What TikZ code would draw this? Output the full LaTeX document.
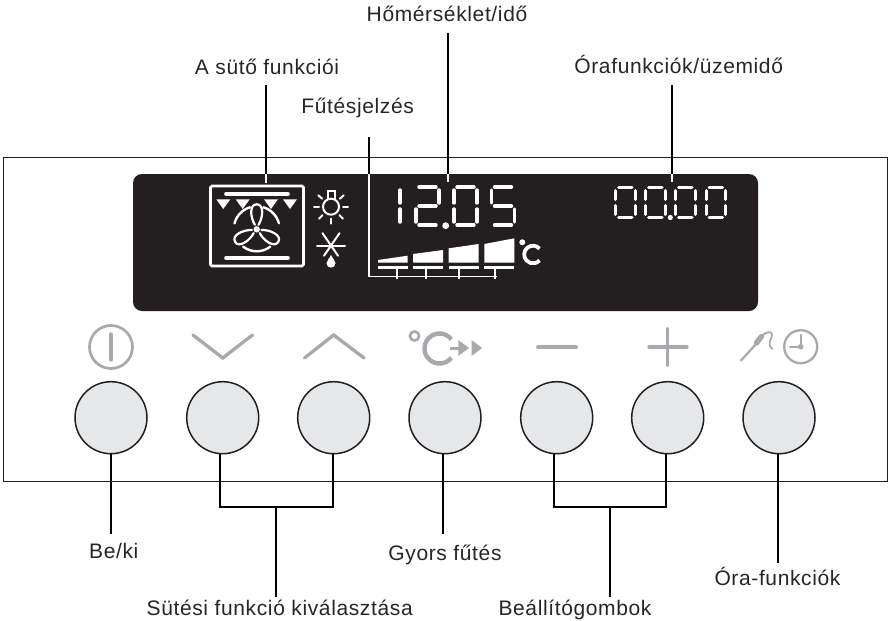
\documentclass[tikz,border=0pt]{standalone}
\usepackage{fontspec}
\setmainfont{Liberation Sans}
\newfontfamily\lblfont[LetterSpace=3]{Liberation Sans}
\definecolor{panelblack}{HTML}{231F20}
\definecolor{icongray}{HTML}{A7A9AC}
\definecolor{btnfill}{HTML}{E6E7E8}
% \segdigit{x}{y}{w}{h}{segments}: seven segment digit
\newcommand{\segdigit}[5]{%
  \foreach \s in {#5}{%
    \ifnum\s=1 \draw[seg] ({#1+3},{#2}) -- ({#1+#3-3},{#2});\fi
    \ifnum\s=2 \draw[seg] ({#1+#3},{#2+3}) -- ({#1+#3},{#2+#4/2-3});\fi
    \ifnum\s=3 \draw[seg] ({#1+#3},{#2+#4/2+3}) -- ({#1+#3},{#2+#4-3});\fi
    \ifnum\s=4 \draw[seg] ({#1+3},{#2+#4}) -- ({#1+#3-3},{#2+#4});\fi
    \ifnum\s=5 \draw[seg] ({#1},{#2+#4/2+3}) -- ({#1},{#2+#4-3});\fi
    \ifnum\s=6 \draw[seg] ({#1},{#2+3}) -- ({#1},{#2+#4/2-3});\fi
    \ifnum\s=7 \draw[seg] ({#1+3},{#2+#4/2}) -- ({#1+#3-3},{#2+#4/2});\fi
  }}
\tikzset{
  x=1pt,y=-1pt,
  lbl/.style={font=\lblfont\fontsize{21}{24}\selectfont,anchor=base,inner sep=0pt,text height=12pt,text depth=4pt,text={black!85}},
  btn/.style={circle,draw=panelblack,line width=1.5pt,fill=btnfill,minimum size=72pt,inner sep=0pt},
  lead/.style={draw=black,line width=2pt},
  leadw/.style={draw=white,line width=1.3pt},
  seg/.style={draw=white,line width=3.4pt,line cap=round},
  icon/.style={draw=icongray,line width=3.3pt,line cap=round,line join=miter},
  wht/.style={draw=white,line cap=round},
}
\begin{document}
\begin{tikzpicture}
\useasboundingbox (0,0) rectangle (889,621);
\fill[white] (0,0) rectangle (889,621);
% panel
\node[draw=panelblack,line width=1pt,minimum width=884pt,minimum height=324pt,inner sep=0pt] (panel) at (445,319) {};
\node[fill=panelblack,rounded corners=9pt,minimum width=625pt,minimum height=137pt,inner sep=0pt] (disp) at (445.5,242.5) {};
% labels
\node[lbl] (lh) at (447,21.7) {Hőmérséklet/idő};
\node[lbl] (la) at (267,74) {A sütő funkciói};
\node[lbl] (lo) at (678.7,73.3) {Órafunkciók/üzemidő};
\node[lbl] (lf) at (357.7,113) {Fűtésjelzés};
\node[lbl] (lb) at (113.8,558.3) {Be/ki};
\node[lbl] (lg) at (445,560) {Gyors fűtés};
\node[lbl] (ls) at (279.7,615) {Sütési funkció kiválasztása};
\node[lbl] (lm) at (575,615) {Beállítógombok};
\node[lbl] (lr) at (777.5,585) {Óra-funkciók};
% buttons
\foreach \n/\x in {1/111,2/222.7,3/333.7,4/445,5/556.7,6/667.7,7/779}{
  \node[btn] (b\n) at (\x,417.7) {};
}
% oven icon
\node[draw=white,line width=2.6pt,rounded corners=1.5pt,minimum width=93pt,minimum height=80pt,inner sep=0pt] (oven) at (257,226) {};
\draw[wht,line width=3.6pt] (226,194) -- (288,194);
\draw[wht,line width=3.6pt] (226,258) -- (288,258);
\foreach \x in {223.3,242.7,271,290}{
  \fill[white] (\x-7,199.3) -- (\x+7,199.3) -- (\x,209) -- cycle;
}
\begin{scope}[shift={(256.7,229.3)}]
  \foreach \a in {0,120,240}{
    \draw[wht,line width=2.2pt,rotate=\a,line join=round] (-1.8,-4.5) .. controls (-6.5,-12) and (-7.5,-25) .. (0,-25) .. controls (7.5,-25) and (6.5,-12) .. (1.8,-4.5);
  }
  \fill[white] (0,0) circle (3.2);
  \draw[wht,line width=2.4pt] (-15:23) arc (-15:-73:23);
  \draw[wht,line width=2.4pt] (-107:23) arc (-107:-165:23);
  \draw[wht,line width=2.4pt] (52:22) arc (52:128:22);
\end{scope}
% lamp
\begin{scope}[shift={(331,206.7)}]
  \draw[wht,line width=2pt] (0,0) circle (8);
  \draw[wht,line width=2pt,line cap=butt] (-3.5,-7) -- (-3.5,-15.5) -- (3.5,-15.5) -- (3.5,-7);
  \foreach \a in {0,180,45,90,135,-42,-138}{
    \draw[wht,line width=2pt] (\a:12) -- (\a:17);
  }
\end{scope}
% frost
\begin{scope}[shift={(331,245.7)}]
  \draw[wht,line width=2pt] (-14,0) -- (14,0);
  \draw[wht,line width=2pt] (-8.5,-12.5) -- (7,10);
  \draw[wht,line width=2pt] (8.5,-12.5) -- (-7,10);
  \fill[white] (0,9) .. controls (1,13) and (4.5,14) .. (4.5,17.5) arc (0:180:4.5) .. controls (-4.5,14) and (-1,13) .. (0,9);
\end{scope}
% big digits
\segdigit{400}{187}{0}{38}{2,3}
\segdigit{416}{187}{23}{38}{1,2,7,5,4}
\segdigit{454}{187}{23}{38}{1,2,3,4,5,6}
\segdigit{491.5}{187}{23}{38}{1,6,7,3,4}
\fill[white] (445.7,225.7) circle (3.4);
% small digits
\begin{scope}[seg/.append style={line width=3pt}]
\foreach \x in {615.5,645.5,675.5,706}{
  \segdigit{\x}{187.5}{19.5}{30}{1,2,3,4,5,6}
}
\end{scope}
\fill[white] (670.3,217.5) circle (2.6);
% heat bars
\fill[white] (378,262.7) -- (378,260) -- (407.7,255.7) -- (407.7,262.7) -- cycle;
\fill[white] (413,262.7) -- (413,254) -- (443,250) -- (443,262.7) -- cycle;
\fill[white] (448.7,262.7) -- (448.7,248.3) -- (478.7,244) -- (478.7,262.7) -- cycle;
\fill[white] (484.3,262.7) -- (484.3,244) -- (514.3,238.3) -- (514.3,262.7) -- cycle;
\foreach \x/\y in {378/407.7,413/443,448.7/478.7,484.3/514.3}{
  \fill[white] (\x,266) rectangle (\y,268.6);
}
\fill[white] (522.3,242.3) circle (3);
\draw[wht,line width=3.8pt,line cap=butt] (533,254.5) ++(-42:8.8) arc (-42:-318:8.8);
% leaders
\coordinate (xa) at (266,183);
\coordinate (xh) at (448,182);
\coordinate (xo) at (672,182);
\coordinate (fa) at (369,137);
\coordinate (fc) at (369,276.5);
\coordinate (fe) at (497,276.5);
\draw[lead,shorten <=7pt] (xa |- la.south) -- (xa |- disp.north);
\draw[leadw] (xa |- disp.north) -- (xa);
\draw[lead,shorten <=7.3pt] (xh |- lh.south) -- (xh |- disp.north);
\draw[leadw] (xh |- disp.north) -- (xh);
\draw[lead,shorten <=7.7pt] (xo |- lo.south) -- (xo |- disp.north);
\draw[leadw] (xo |- disp.north) -- (xo);
\draw[lead] (fa) -- (fa |- disp.north);
\draw[leadw] (fa |- disp.north) -- (fc) -- (fe);
\foreach \x in {397,426,459,495}{
  \draw[leadw,line width=1.1pt] (\x,268.5) -- (\x,279);
}
\coordinate (j2) at (220,507);
\coordinate (j3) at (333,507);
\coordinate (j5) at (554,507);
\coordinate (j6) at (666,507);
\coordinate (jl) at (276,507);
\coordinate (jm) at (610,507);
\coordinate (x1) at (111,454);
\coordinate (x4) at (443,454);
\coordinate (x7) at (778,454);
\draw[lead,shorten >=12.3pt] (x1 |- b1.south) -- (x1 |- lb.north);
\draw[lead,shorten >=14pt] (x4 |- b4.south) -- (x4 |- lg.north);
\draw[lead,shorten >=10.3pt] (x7 |- b7.south) -- (x7 |- lr.north);
\draw[lead] (j2 |- b2.south) -- (j2) -- (j3) -- (j3 |- b3.south);
\draw[lead] (j5 |- b5.south) -- (j5) -- (j6) -- (j6 |- b6.south);
\draw[lead,shorten >=5.7pt] (jl) -- (jl |- ls.north);
\draw[lead,shorten >=5.7pt] (jm) -- (jm |- lm.north);
% icons
\draw[icon,line width=2.7pt] (111,347) circle (21.5);
\draw[icon] (111,334) -- (111,360);
\draw[icon] (193,335) -- (222.7,358) -- (252.5,335);
\draw[icon] (304.5,358) -- (333.7,335) -- (364,358);
\draw[icon,line width=2.6pt] (414.5,336) circle (4.6);
\draw[icon,line width=4.4pt,line cap=butt] (439.5,348.5) ++(-38:15) arc (-38:-322:15);
\draw[icon,line cap=butt,line width=3pt] (450,348) -- (459,348);
\fill[icongray] (458.3,340) -- (469,348) -- (458.3,356) -- cycle;
\fill[icongray] (471.5,340) -- (482,348) -- (471.5,356) -- cycle;
\draw[icon,line width=3.8pt] (538,347) -- (576,347);
\draw[icon] (649,347) -- (687,347);
\draw[icon] (667.7,328.5) -- (667.7,365.5);
\draw[icon,line width=2.2pt] (741,360.5) -- (757,343);
\draw[icon,line width=5.4pt] (756.5,343) -- (761.5,336.5);
\draw[icon,line width=1.8pt] (762,336) .. controls (766,331) and (772,331) .. (772,335) .. controls (772,340) and (766,343) .. (772.5,349);
\draw[icon,line width=2.3pt] (800.7,346.7) circle (16.5);
\draw[icon,line width=2.3pt] (800.7,335) -- (800.7,346.7) -- (790,346.7);
\fill[icongray] (800.7,346.7) circle (2.8);
\end{tikzpicture}
\end{document}
